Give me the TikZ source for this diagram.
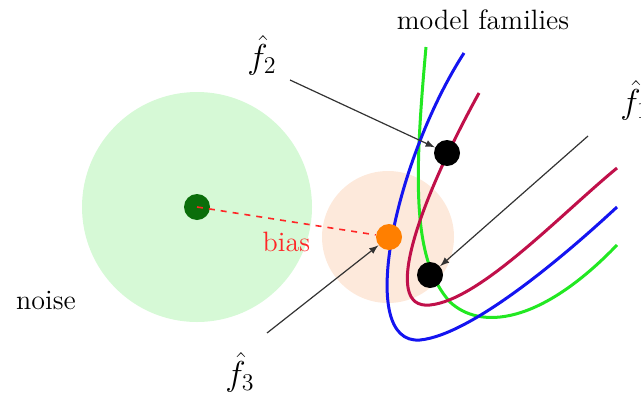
\documentclass[tikz,border=0pt]{standalone}
\usepackage{amsmath}
\usepackage{tikz}
\usetikzlibrary{positioning}

\definecolor{noisegreen}{HTML}{D6F9D6}
\definecolor{biaspeach}{HTML}{FDE9DB}
\definecolor{truegreen}{HTML}{0A6E0A}
\definecolor{estorange}{HTML}{FF7F00}
\definecolor{famred}{HTML}{C0104A}
\definecolor{famgreen}{HTML}{22E822}
\definecolor{famblue}{HTML}{1414F0}

\tikzset{
  dot/.style={circle, fill, inner sep=0pt, minimum size=13pt},
  family/.style={line width=1.5pt},
  pointer/.style={->, >=latex, line width=0.6pt, black!80},
  lbl/.style={font=\fontsize{14}{16}\selectfont},
  hatlbl/.style={font=\fontsize{17}{20}\selectfont}
}

\begin{document}
\begin{tikzpicture}[x=0.5pt, y=-0.5pt]
\useasboundingbox (0,0) rectangle (641,396);
% Regions
\fill[noisegreen] (197,207) circle (115);
\fill[biaspeach] (388,237) circle (66);

% Model families
\draw[family, famgreen] (426,47) .. controls (414,180) and (412,260) .. (450,302)
  .. controls (480,330) and (540,325) .. (617,245);
\draw[family, famblue] (464,53) .. controls (395,160) and (355,345) .. (420,340)
  .. controls (470,335) and (560,260) .. (617,207);
\draw[family, famred] (479,93) .. controls (420,200) and (380,310) .. (430,305)
  .. controls (480,300) and (560,215) .. (617,168);

% Points
\node[dot, truegreen] (truth) at (197,207) {};
\node[dot, estorange] (fthree) at (389,237) {};
\node[dot, black] (ftwo) at (447,153) {};
\node[dot, black] (fone) at (430,275) {};

% Labels
\node[lbl] (famlabel) at (483,20) {model families};
\node[lbl] (noiselabel) at (46,300) {noise};
\node[hatlbl] (ftwolabel) at (262,55) {$\hat{f}_2$};
\node[hatlbl] (fonelabel) at (635,100) {$\hat{f}_1$};
\node[hatlbl] (fthreelabel) at (240,372) {$\hat{f}_3$};
\coordinate (ftwotail) at (290,80);
\coordinate (fonetail) at (588,136);
\coordinate (fthreetail) at (267,333);

% Connectors
\draw[red!85, dashed, line width=0.8pt] (truth.center) -- node[below=2pt, lbl, text=red!85] {bias} (fthree);
\draw[pointer] (ftwotail) -- (ftwo);
\draw[pointer] (fonetail) -- (fone);
\draw[pointer] (fthreetail) -- (fthree);
\end{tikzpicture}
\end{document}
